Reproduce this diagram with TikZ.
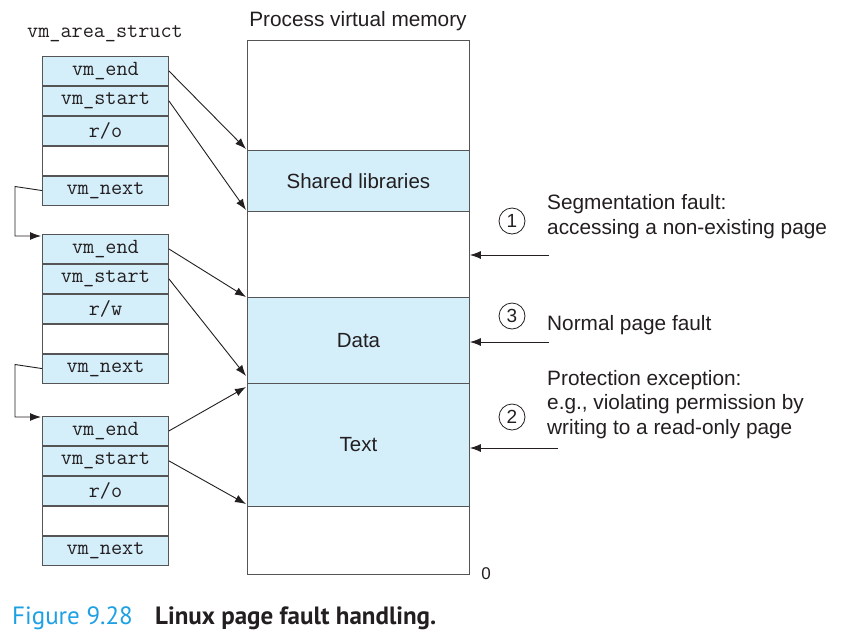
\documentclass[tikz,border=0pt]{standalone}
\usepackage{fontspec}
\setmainfont{Liberation Sans}
\newfontfamily\capfont{PT Sans}
\usetikzlibrary{arrows.meta,calc}
\definecolor{cellblue}{HTML}{D4EEFA}
\definecolor{edgegray}{HTML}{555555}
\definecolor{capblue}{HTML}{1DA1E4}
\definecolor{inkdark}{HTML}{231F20}
\tikzset{
  cell/.style={draw=edgegray, line width=0.9pt, minimum width=126pt, minimum height=29pt, inner sep=0pt, font=\ttfamily\fontsize{21.6}{24}\selectfont, text=inkdark},
  fcell/.style={cell, fill=cellblue},
  ecell/.style={cell, fill=white},
  mem/.style={draw=edgegray, line width=0.9pt, minimum width=222pt, inner sep=0pt, font=\fontsize{20.5}{24}\selectfont, text=inkdark},
  conn/.style={draw=inkdark, line width=0.9pt, -{Latex[length=11pt,width=8pt]}},
  num/.style={circle, draw=inkdark, line width=0.8pt, minimum size=26pt, inner sep=0pt, font=\fontsize{19}{22}\selectfont, text=inkdark},
  lbl/.style={anchor=west, align=left, inner sep=0pt, font=\fontsize{20.8}{24.5}\selectfont, text=inkdark}
}
\begin{document}
\begin{tikzpicture}[x=1pt,y=-1pt]
\useasboundingbox[fill=white] (0,0) rectangle (860,641);

% titles
\node[font=\fontsize{20.8}{24}\selectfont, text=inkdark] (ptitle) at (358,21.5) {Process virtual memory};
\node[font=\ttfamily\fontsize{21.6}{24}\selectfont, text=inkdark] (stitle) at (105,34) {vm\_area\_struct};

% memory regions
\node[mem, minimum height=110pt, anchor=north west] (mtop) at (247,40) {};
\node[mem, minimum height=61pt, fill=cellblue, anchor=north west] (shlib) at (247,150) {Shared libraries};
\node[mem, minimum height=86pt, anchor=north west] (gap) at (247,211) {};
\node[mem, minimum height=86pt, fill=cellblue, anchor=north west] (data) at (247,297) {Data};
\node[mem, minimum height=123pt, fill=cellblue, anchor=north west] (text) at (247,383) {Text};
\node[mem, minimum height=68pt, anchor=north west] (mbot) at (247,506) {};
\node[font=\fontsize{17}{20}\selectfont, text=inkdark] (zero) at (486,574) {0};

% struct 1
\node[fcell, anchor=north west] (aend) at (42,56) {vm\_end};
\node[fcell, anchor=north] (astart) at (aend.south) {vm\_start};
\node[fcell, anchor=north] (aperm) at (astart.south) {r/o};
\node[ecell, anchor=north] (ablank) at (aperm.south) {};
\node[fcell, anchor=north] (anext) at (ablank.south) {vm\_next};

% struct 2
\node[fcell, anchor=north west] (bend) at (42,234) {vm\_end};
\node[fcell, anchor=north] (bstart) at (bend.south) {vm\_start};
\node[fcell, anchor=north] (bperm) at (bstart.south) {r/w};
\node[ecell, anchor=north] (bblank) at (bperm.south) {};
\node[fcell, anchor=north] (bnext) at (bblank.south) {vm\_next};

% struct 3
\node[fcell, anchor=north west] (cend) at (42,416) {vm\_end};
\node[fcell, anchor=north] (cstart) at (cend.south) {vm\_start};
\node[fcell, anchor=north] (cperm) at (cstart.south) {r/o};
\node[ecell, anchor=north] (cblank) at (cperm.south) {};
\node[fcell, anchor=north] (cnext) at (cblank.south) {vm\_next};

% struct -> memory arrows
\coordinate (t1) at (246,149);
\coordinate (t2) at (246,210);
\coordinate (t3) at (246,297);
\coordinate (t4) at (246,376);
\coordinate (t5) at (246,387);
\coordinate (t6) at (246,504);
\draw[conn] (aend.east) -- (t1);
\draw[conn] (astart.east) -- (t2);
\draw[conn] (bend.east) -- (t3);
\draw[conn] (bstart.east) -- (t4);
\draw[conn] (cend.east) -- (t5);
\draw[conn] (cstart.east) -- (t6);

% vm_next links
\coordinate (l1) at (41,236);
\coordinate (l2) at (41,417);
\draw[conn] (anext.west) -- (15,186.5) |- (l1);
\draw[conn] (bnext.west) -- (15,364.5) |- (l2);

% faults
\node[num] (n1) at (512,221) {1};
\node[num] (n3) at (512,316) {3};
\node[num] (n2) at (512,417) {2};
\node[lbl] (f1) at (547,216.5) {Segmentation fault:\\accessing a non-existing page};
\node[lbl] (f3) at (547,325.5) {Normal page fault};
\node[lbl] (f2) at (547,404.5) {Protection exception:\\e.g., violating permission by\\writing to a read-only page};
\coordinate (r1) at (549,255);
\coordinate (r3) at (549,342);
\coordinate (r2) at (558,448);
\draw[conn] (r1) -- (r1 -| gap.east);
\draw[conn] (r3) -- (r3 -| data.east);
\draw[conn] (r2) -- (r2 -| text.east);

% caption
\node[anchor=west, inner sep=0pt, font=\capfont\fontsize{25}{28}\selectfont, text=capblue] (capnum) at (12,618.5) {Figure 9.28};
\node[anchor=west, inner sep=0pt, font=\capfont\bfseries\fontsize{25}{28}\selectfont, text=inkdark] (captext) at (155,618.5) {Linux page fault handling.};
\end{tikzpicture}
\end{document}
